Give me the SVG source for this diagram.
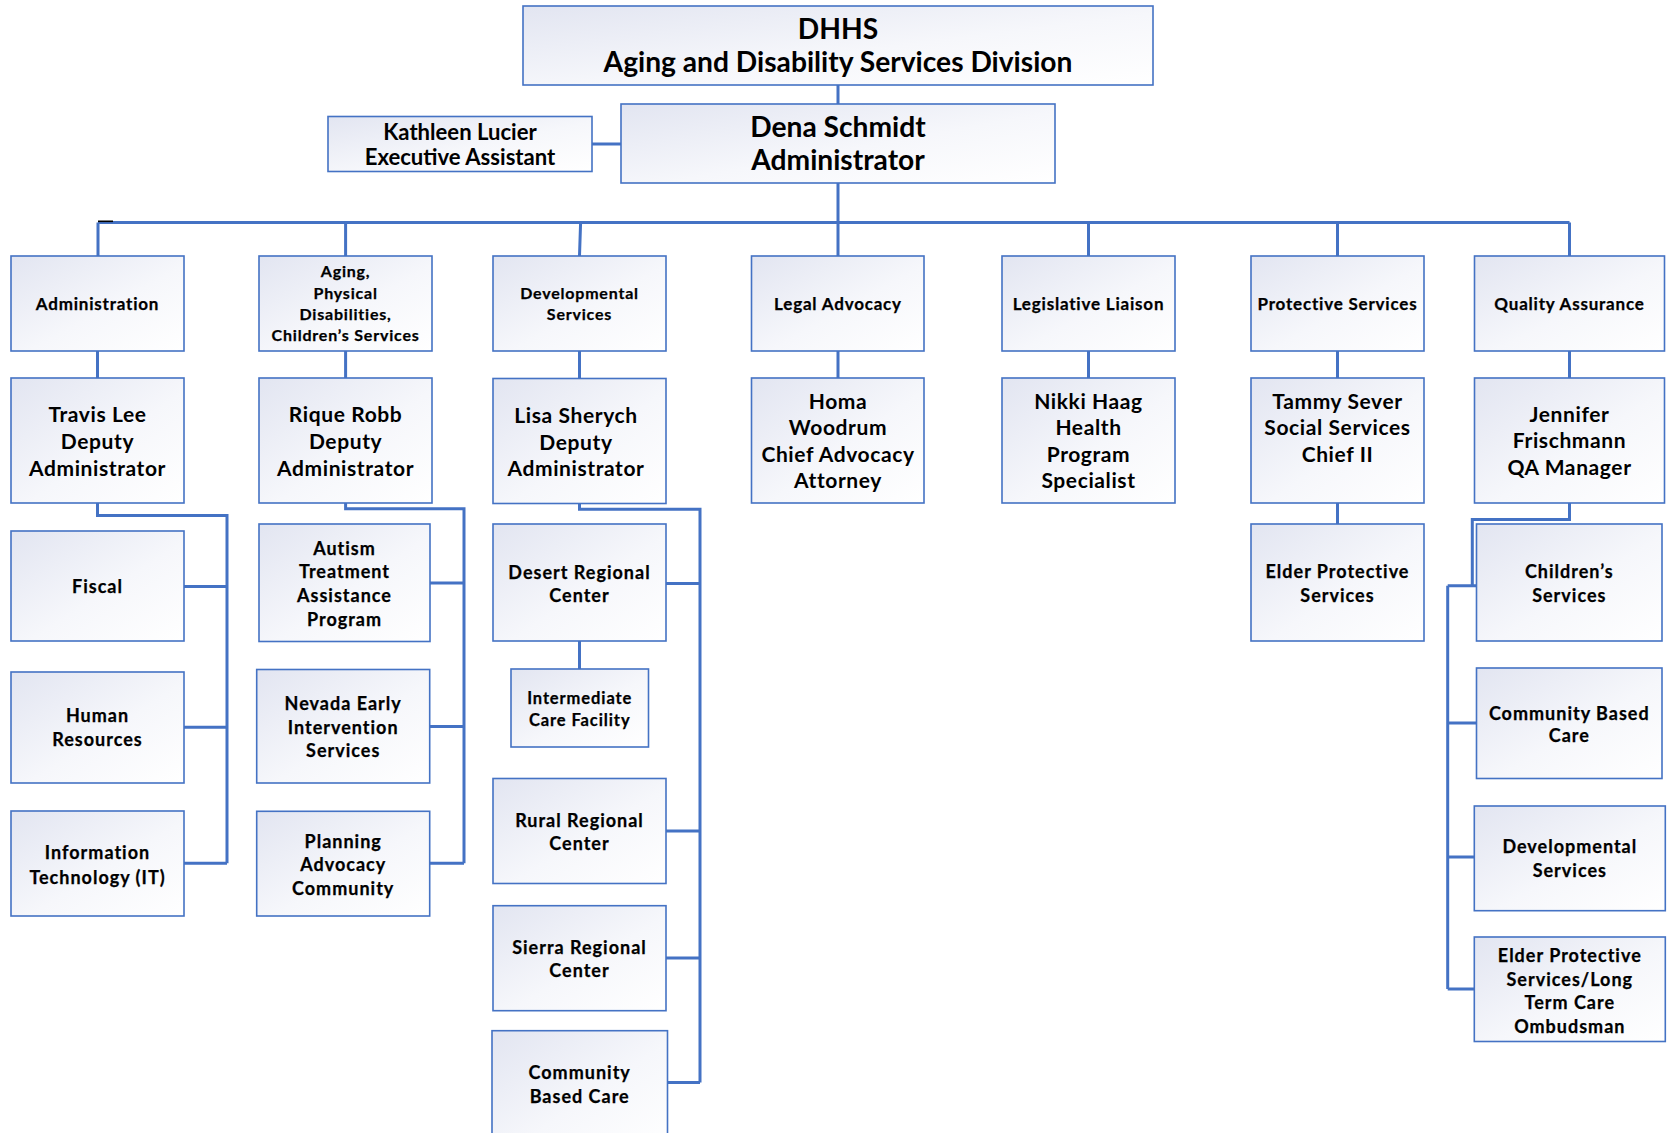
<svg xmlns="http://www.w3.org/2000/svg" width="1669" height="1133" viewBox="0 0 1669 1133">
<style>
.box{fill:url(#g);stroke:#4472C4;stroke-width:1.6}
.c{fill:none;stroke:#4472C4;stroke-width:3}
text{font-family:Lato,"Liberation Sans",sans-serif;font-weight:700;fill:#000;text-anchor:middle}
.h{font-size:28.2px}
.k{font-size:22.1px}
.p{font-size:21px;letter-spacing:0.6px}
.s{font-size:17px;letter-spacing:0.8px;stroke:#000;stroke-width:0.25}
.u{font-size:18px;letter-spacing:1px;stroke:#000;stroke-width:0.25}
.t{font-size:16px;letter-spacing:0.8px;stroke:#000;stroke-width:0.25}
.i{font-size:16.5px;letter-spacing:0.9px;stroke:#000;stroke-width:0.25}
</style>
<defs>
<linearGradient id="g" x1="0" y1="0" x2="1" y2="1">
<stop offset="0" stop-color="#E2E5F1"/>
<stop offset="0.55" stop-color="#F6F7FB"/>
<stop offset="1" stop-color="#FFFFFF"/>
</linearGradient>
</defs>
<rect width="1669" height="1133" fill="#fff"/>
<g id="connectors">
<path class="c" d="M838 85V104M592 144H621M838 183V222.5M98 222.5H1569.5"/>
<path class="c" d="M98 222.5V256M345.6 222.5V256M580.6 222.5L579.5 256M838 222.5V256M1088.5 222.5V256M1337.5 222.5V256M1569.5 222.5V256"/>
<path class="c" d="M97.5 351V378M345.6 351V378M579.5 351V378.5M838 351V378M1088.5 351V378M1337.5 351V378M1569.5 351V378"/>
<path class="c" d="M97.5 503V515.5H227V863.3M184 586.5H227M184 727.3H227M184 863.3H227"/>
<path class="c" d="M345.6 503V508.8H464V863.3M430 583H464M429.7 726.5H464M429.7 863.3H464"/>
<path class="c" d="M579.5 503.5V509.3H700V1082.5M666 583.6H700M666 831H700M666 958H700M667.5 1082.5H700M579.5 641V669"/>
<path class="c" d="M1337.5 503V524"/>
<path class="c" d="M1569.5 503V519.6H1472.3V585.7M1447.7 585.7H1476.5M1447.7 585.7V989M1447.7 723H1476.5M1447.7 857H1474.3M1447.7 989H1474.3"/>
<path d="M98 221.3H113" stroke="#000" stroke-width="1.6" fill="none"/>
</g>
<g id="dhhs"><rect class="box" x="523" y="6" width="630" height="79"/><text class="h"><tspan x="838" y="39">DHHS</tspan><tspan x="838" y="72">Aging and Disability Services Division</tspan></text></g>
<g id="dena"><rect class="box" x="621" y="104" width="434" height="79"/><text class="h"><tspan x="838" y="137">Dena Schmidt</tspan><tspan x="838" y="170">Administrator</tspan></text></g>
<g id="kathleen"><rect class="box" x="328" y="116.5" width="264" height="55"/><text class="k"><tspan x="460" y="139.5">Kathleen Lucier</tspan><tspan x="460" y="165">Executive Assistant</tspan></text></g>

<g id="administration"><rect class="box" x="11" y="256" width="173" height="95"/><text class="s"><tspan x="97.5" y="309.5">Administration</tspan></text></g>
<g id="travis"><rect class="box" x="11" y="378" width="173" height="125"/><text class="p"><tspan x="97.5" y="422">Travis Lee</tspan><tspan x="97.5" y="449">Deputy</tspan><tspan x="97.5" y="475.5">Administrator</tspan></text></g>
<g id="fiscal"><rect class="box" x="11" y="531" width="173" height="110"/><text class="u"><tspan x="97.5" y="592.8">Fiscal</tspan></text></g>
<g id="hr"><rect class="box" x="11" y="672" width="173" height="111"/><text class="u"><tspan x="97.5" y="722.3">Human</tspan><tspan x="97.5" y="746.3">Resources</tspan></text></g>
<g id="it"><rect class="box" x="11" y="811" width="173" height="105"/><text class="u"><tspan x="97.5" y="859">Information</tspan><tspan x="97.5" y="883.6">Technology (IT)</tspan></text></g>

<g id="aging"><rect class="box" x="259" y="256" width="173" height="95"/><text class="t"><tspan x="345.6" y="277.3">Aging,</tspan><tspan x="345.6" y="298.8">Physical</tspan><tspan x="345.6" y="320">Disabilities,</tspan><tspan x="345.6" y="341.4">Children’s Services</tspan></text></g>
<g id="rique"><rect class="box" x="259" y="378" width="173" height="125"/><text class="p"><tspan x="345.6" y="422">Rique Robb</tspan><tspan x="345.6" y="449">Deputy</tspan><tspan x="345.6" y="475.5">Administrator</tspan></text></g>
<g id="autism"><rect class="box" x="259" y="524" width="171" height="117.5"/><text class="u"><tspan x="344.5" y="554.6">Autism</tspan><tspan x="344.5" y="578.2">Treatment</tspan><tspan x="344.5" y="602.2">Assistance</tspan><tspan x="344.5" y="626.2">Program</tspan></text></g>
<g id="nevada"><rect class="box" x="256.7" y="669.5" width="173" height="113.5"/><text class="u"><tspan x="343.2" y="709.6">Nevada Early</tspan><tspan x="343.2" y="733.6">Intervention</tspan><tspan x="343.2" y="757.2">Services</tspan></text></g>
<g id="planning"><rect class="box" x="256.7" y="811.3" width="173" height="104.7"/><text class="u"><tspan x="343.2" y="848">Planning</tspan><tspan x="343.2" y="871.2">Advocacy</tspan><tspan x="343.2" y="895.2">Community</tspan></text></g>

<g id="developmental"><rect class="box" x="493" y="256" width="173" height="95"/><text class="t"><tspan x="579.5" y="299.4">Developmental</tspan><tspan x="579.5" y="320.1">Services</tspan></text></g>
<g id="lisa"><rect class="box" x="493" y="378.5" width="173" height="125"/><text class="p"><tspan x="576" y="422.5">Lisa Sherych</tspan><tspan x="576" y="449.5">Deputy</tspan><tspan x="576" y="476">Administrator</tspan></text></g>
<g id="desert"><rect class="box" x="493" y="524" width="173" height="117"/><text class="u"><tspan x="579.5" y="578.5">Desert Regional</tspan><tspan x="579.5" y="602.1">Center</tspan></text></g>
<g id="icf"><rect class="box" x="511" y="669" width="137.5" height="78"/><text class="i"><tspan x="579.7" y="703.9">Intermediate</tspan><tspan x="579.7" y="726.1">Care Facility</tspan></text></g>
<g id="rural"><rect class="box" x="493" y="778.5" width="173" height="105"/><text class="u"><tspan x="579.5" y="827.1">Rural Regional</tspan><tspan x="579.5" y="850.3">Center</tspan></text></g>
<g id="sierra"><rect class="box" x="493" y="905.7" width="173" height="105"/><text class="u"><tspan x="579.5" y="953.9">Sierra Regional</tspan><tspan x="579.5" y="977.1">Center</tspan></text></g>
<g id="cbc3"><rect class="box" x="492" y="1030.7" width="175.5" height="120"/><text class="u"><tspan x="579.7" y="1078.8">Community</tspan><tspan x="579.7" y="1102.6">Based Care</tspan></text></g>

<g id="legal"><rect class="box" x="751.5" y="256" width="172.5" height="95"/><text class="s"><tspan x="838" y="309.5">Legal Advocacy</tspan></text></g>
<g id="homa"><rect class="box" x="751.5" y="378" width="172.5" height="125"/><text class="p"><tspan x="838" y="408.5">Homa</tspan><tspan x="838" y="434.5">Woodrum</tspan><tspan x="838" y="461.5">Chief Advocacy</tspan><tspan x="838" y="487.7">Attorney</tspan></text></g>

<g id="legislative"><rect class="box" x="1002" y="256" width="173" height="95"/><text class="s"><tspan x="1088.5" y="309.5">Legislative Liaison</tspan></text></g>
<g id="nikki"><rect class="box" x="1002" y="378" width="173" height="125"/><text class="p"><tspan x="1088.5" y="408.5">Nikki Haag</tspan><tspan x="1088.5" y="434.5">Health</tspan><tspan x="1088.5" y="461.5">Program</tspan><tspan x="1088.5" y="487.7">Specialist</tspan></text></g>

<g id="protective"><rect class="box" x="1251" y="256" width="173" height="95"/><text class="s"><tspan x="1337.5" y="309.5">Protective Services</tspan></text></g>
<g id="tammy"><rect class="box" x="1251" y="378" width="173" height="125"/><text class="p"><tspan x="1337.5" y="409.2">Tammy Sever</tspan><tspan x="1337.5" y="435.2">Social Services</tspan><tspan x="1337.5" y="461.5">Chief II</tspan></text></g>
<g id="elder-ps"><rect class="box" x="1251" y="524" width="173" height="117"/><text class="u"><tspan x="1337.5" y="578.3">Elder Protective</tspan><tspan x="1337.5" y="602">Services</tspan></text></g>

<g id="qa"><rect class="box" x="1474.5" y="256" width="190" height="95"/><text class="s"><tspan x="1569.5" y="309.5">Quality Assurance</tspan></text></g>
<g id="jennifer"><rect class="box" x="1474.5" y="378" width="190" height="125"/><text class="p"><tspan x="1569.5" y="421.5">Jennifer</tspan><tspan x="1569.5" y="448.2">Frischmann</tspan><tspan x="1569.5" y="475.2">QA Manager</tspan></text></g>
<g id="childrens"><rect class="box" x="1476.5" y="524" width="185.5" height="117"/><text class="u"><tspan x="1569.3" y="578.3">Children’s</tspan><tspan x="1569.3" y="602">Services</tspan></text></g>
<g id="cbc7"><rect class="box" x="1476.5" y="668" width="185.5" height="110.5"/><text class="u"><tspan x="1569.3" y="719.5">Community Based</tspan><tspan x="1569.3" y="742">Care</tspan></text></g>
<g id="dev7"><rect class="box" x="1474.3" y="806" width="191" height="104.7"/><text class="u"><tspan x="1569.8" y="853.3">Developmental</tspan><tspan x="1569.8" y="877">Services</tspan></text></g>
<g id="elder7"><rect class="box" x="1474.3" y="937" width="191" height="104.5"/><text class="u"><tspan x="1569.8" y="962.3">Elder Protective</tspan><tspan x="1569.8" y="985.6">Services/Long</tspan><tspan x="1569.8" y="1009.2">Term Care</tspan><tspan x="1569.8" y="1033.1">Ombudsman</tspan></text></g>
</svg>
